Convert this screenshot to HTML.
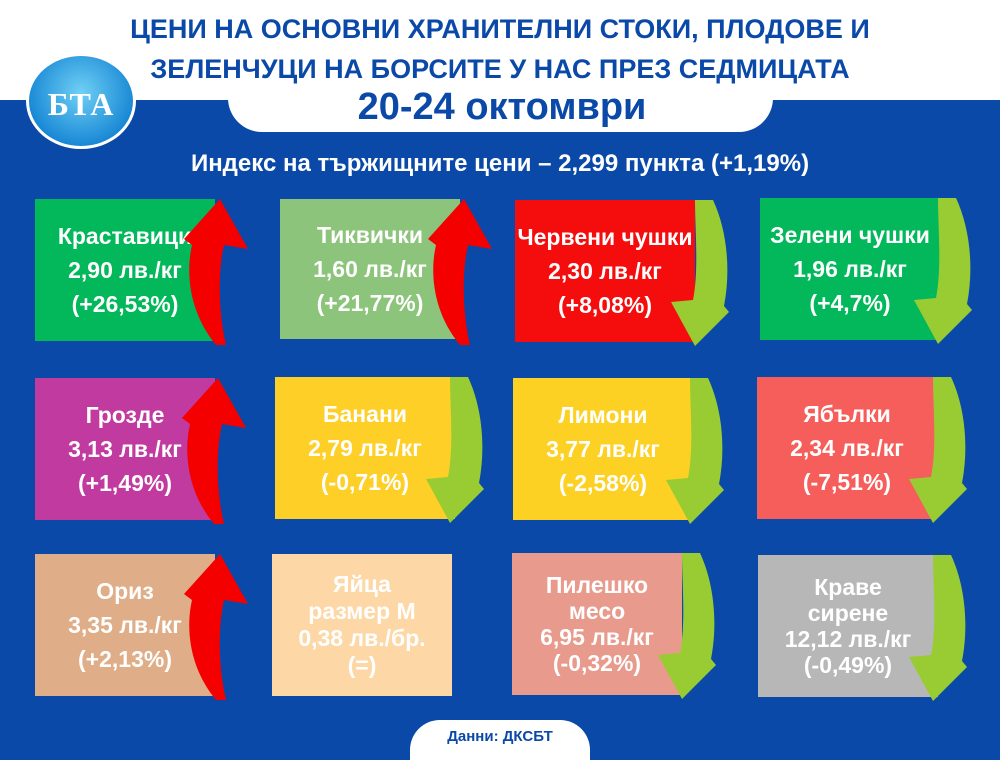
<!DOCTYPE html>
<html><head><meta charset="utf-8">
<style>
*{margin:0;padding:0;box-sizing:border-box}
body{width:1000px;height:750px;overflow:hidden;background:#0a49a8;font-family:"Liberation Sans","DejaVu Sans",sans-serif;position:relative}
.top{position:absolute;left:0;top:0;width:1000px;height:100px;background:#fff}
.tab{position:absolute;left:228px;top:60px;width:545px;height:72px;background:#fff;border-radius:0 0 34px 34px}
.t1,.t2,.t3{position:absolute;left:0;width:1000px;text-align:center;color:#0a49a8;font-weight:bold}
.t1{top:14px;font-size:27px}
.t2{top:54px;font-size:27px}
.t3{top:86px;font-size:38px;left:2px}
.idx{position:absolute;top:150px;left:0;width:1000px;text-align:center;color:#fff;font-size:24px;font-weight:bold}
.logo{position:absolute;left:26px;top:53px;width:110px;height:96px;border-radius:50%;background:radial-gradient(circle at 50% 40%,#6fd0f5,#1b8ad6 70%,#0b5bb0);border:3px solid #fff}
.logo span{position:absolute;left:-8px;top:30px;width:120px;text-align:center;color:#fff;font-family:"Liberation Serif",serif;font-weight:bold;font-size:32px;letter-spacing:1px}
.card{position:absolute;color:#fff;text-align:center;font-weight:bold;font-size:23px;line-height:34px;display:flex;flex-direction:column;justify-content:center;white-space:nowrap}
.foot{position:absolute;left:410px;top:720px;width:180px;height:40px;background:#fff;border-radius:30px 30px 0 0;color:#0a49a8;font-weight:bold;font-size:15px;text-align:center;padding-top:8px}
svg{position:absolute;left:0;top:0}
</style></head><body>
<div class="top"></div><div class="tab"></div>
<div class="t1">ЦЕНИ НА ОСНОВНИ ХРАНИТЕЛНИ СТОКИ, ПЛОДОВЕ И</div>
<div class="t2">ЗЕЛЕНЧУЦИ НА БОРСИТЕ У НАС ПРЕЗ СЕДМИЦАТА</div>
<div class="t3">20-24 октомври</div>
<div class="logo"><span>БТА</span></div>
<div class="idx">Индекс на тържищните цени – 2,299 пункта (+1,19%)</div>

<div class="card" style="left:35px;top:199px;width:180px;height:142px;background:#02b85b">Краставици<br>2,90 лв./кг<br>(+26,53%)</div>
<div class="card" style="left:280px;top:199px;width:180px;height:140px;background:#8bc47a">Тиквички<br>1,60 лв./кг<br>(+21,77%)</div>
<div class="card" style="left:515px;top:200px;width:180px;height:142px;background:#f50d0d">Червени чушки<br>2,30 лв./кг<br>(+8,08%)</div>
<div class="card" style="left:760px;top:198px;width:180px;height:142px;background:#02b85b">Зелени чушки<br>1,96 лв./кг<br>(+4,7%)</div>

<div class="card" style="left:35px;top:378px;width:180px;height:142px;background:#c13a9f">Грозде<br>3,13 лв./кг<br>(+1,49%)</div>
<div class="card" style="left:275px;top:377px;width:180px;height:142px;background:#fecf26">Банани<br>2,79 лв./кг<br>(-0,71%)</div>
<div class="card" style="left:513px;top:378px;width:180px;height:142px;background:#fdd024">Лимони<br>3,77 лв./кг<br>(-2,58%)</div>
<div class="card" style="left:757px;top:377px;width:180px;height:142px;background:#f55e5b">Ябълки<br>2,34 лв./кг<br>(-7,51%)</div>

<div class="card" style="left:35px;top:554px;width:180px;height:142px;background:#dfad87">Ориз<br>3,35 лв./кг<br>(+2,13%)</div>
<div class="card" style="left:272px;top:554px;width:180px;height:142px;background:#fdd8a6;line-height:27px">Яйца<br>размер М<br>0,38 лв./бр.<br>(=)</div>
<div class="card" style="left:512px;top:553px;width:170px;height:142px;background:#e89b8d;line-height:26px">Пилешко<br>месо<br>6,95 лв./кг<br>(-0,32%)</div>
<div class="card" style="left:758px;top:555px;width:180px;height:142px;background:#b7b7b7;line-height:26px">Краве<br>сирене<br>12,12 лв./кг<br>(-0,49%)</div>

<svg width="1000" height="750" viewBox="0 0 1000 750">
<defs>
<g id="up"><path d="M8 146 L-2 146 C-30 112 -32 72 -26 46 L-34 40 L2 0 L30 50 L6 46 C0 72 0 112 8 146 Z"/></g>
<g id="dn"><path d="M-2 0 L16 0 C30 30 34 70 27 106 L32 112 L-2 146 L-26 102 L-4 100 C2 70 -2 30 -2 0 Z"/></g>
</defs>
<use href="#up" x="218" y="199" fill="#f50000"/>
<use href="#up" x="462" y="199" fill="#f50000"/>
<use href="#up" x="216" y="378" fill="#f50000"/>
<use href="#up" x="218" y="554" fill="#f50000"/>
<use href="#dn" x="697" y="200" fill="#99cc33"/>
<use href="#dn" x="940" y="198" fill="#99cc33"/>
<use href="#dn" x="452" y="377" fill="#99cc33"/>
<use href="#dn" x="692" y="378" fill="#99cc33"/>
<use href="#dn" x="935" y="377" fill="#99cc33"/>
<use href="#dn" x="684" y="553" fill="#99cc33"/>
<use href="#dn" x="935" y="555" fill="#99cc33"/>
</svg>
<div class="foot">Данни: ДКСБТ</div>
</body></html>
